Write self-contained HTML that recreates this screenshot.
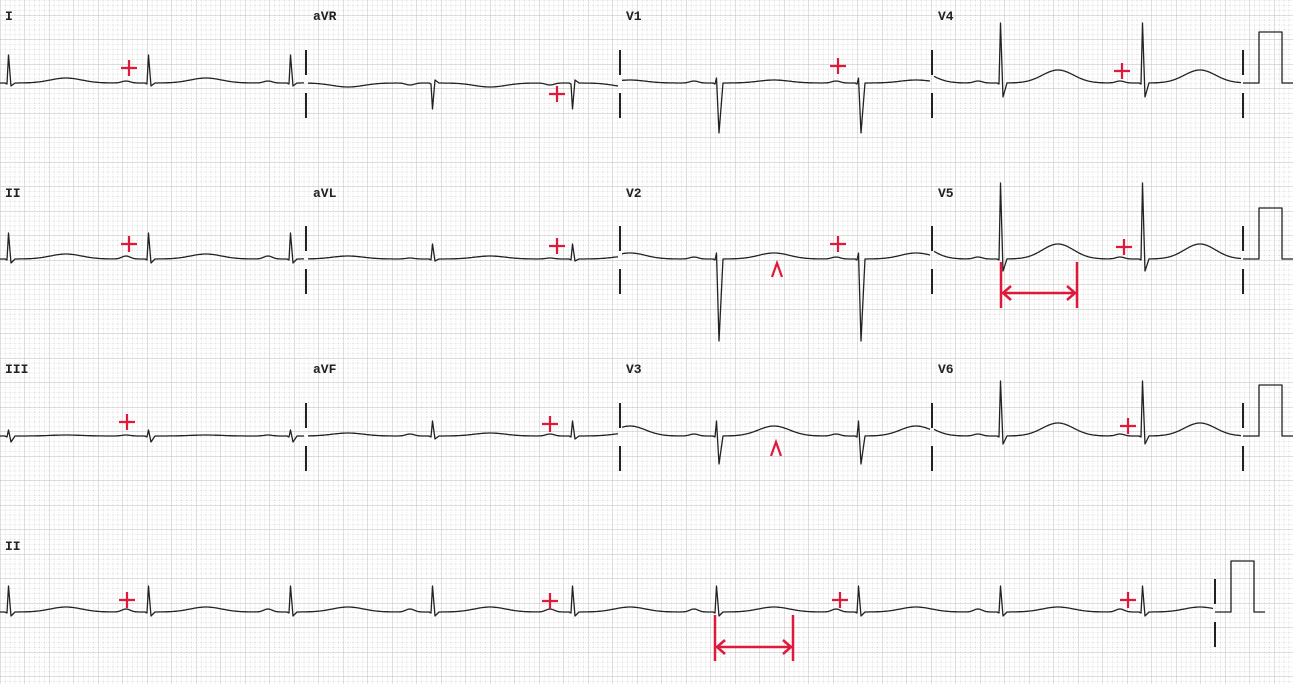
<!DOCTYPE html>
<html><head><meta charset="utf-8"><style>
html,body{margin:0;padding:0;background:#fff}
svg{display:block}
</style></head><body>
<svg id="s" width="1293" height="684" xmlns="http://www.w3.org/2000/svg">
<defs>
<pattern id="sm" width="4.9" height="4.9" patternUnits="userSpaceOnUse" x="0" y="15">
<path d="M0 0H4.9M0 0V4.9" stroke="#c8c8c8" stroke-width="0.8" stroke-dasharray="1 1" fill="none"/>
</pattern>
<pattern id="mj" width="24.5" height="24.5" patternUnits="userSpaceOnUse" x="0" y="15">
<path d="M0 0H24.5M0 0V24.5" stroke="#bdbdbd" stroke-width="0.9" fill="none"/>
</pattern>
</defs>
<rect width="1293" height="684" fill="#fff"/>
<rect width="1293" height="684" fill="url(#sm)"/>
<rect width="1293" height="684" fill="url(#mj)"/>
<g font-family="Liberation Mono, monospace" font-weight="bold" font-size="13" fill="#222">
<text x="5" y="20">I</text><text x="313" y="20">aVR</text><text x="626" y="20">V1</text><text x="938" y="20">V4</text>
<text x="5" y="197">II</text><text x="313" y="197">aVL</text><text x="626" y="197">V2</text><text x="938" y="197">V5</text>
<text x="5" y="373">III</text><text x="313" y="373">aVF</text><text x="626" y="373">V3</text><text x="938" y="373">V6</text>
<text x="5" y="550">II</text>
</g>
<g id="tr" fill="none" stroke="#222" stroke-width="1.3" stroke-linejoin="round"></g>
<g id="red" stroke="#e0193a" stroke-width="2.2" fill="none"></g>
</svg>
<script>
var tr=document.getElementById('tr'),red=document.getElementById('red');
var NS='http://www.w3.org/2000/svg';
function el(p,t,a){var e=document.createElementNS(NS,t);for(var k in a)e.setAttribute(k,a[k]);p.appendChild(e);return e;}
var beats=[8,148,290,432,572,716,858,1000,1142];
var L={
I:{r:28,s:-3,t:5,p:2},aVR:{r:-26,s:3,t:-4,p:-2},V1:{r:5,s:-50,t:3,p:2},V4:{r:60,s:-14,t:13,p:2},
II:{r:26,s:-4,t:5,p:3},aVL:{r:15,s:-2,t:3,p:1},V2:{r:6,s:-82,t:6,p:2},V5:{r:76,s:-12,t:15,p:2},
III:{r:6,s:-6,t:1,p:1},aVF:{r:15,s:-3,t:3,p:2},V3:{r:15,s:-28,t:10,p:2},V6:{r:55,s:-8,t:13,p:2}};
var rows=[83,259,436,612];
var cols=[[0,306],[306,620],[620,932],[932,1243]];
var names=[['I','aVR','V1','V4'],['II','aVL','V2','V5'],['III','aVF','V3','V6']];
function smooth(x,b,ld){var y=0;beats.forEach(function(q){var d=x-q;
 y+=ld.p*Math.exp(-Math.pow((d+22)/6,2));
 y+=ld.t*Math.exp(-Math.pow((d-58)/22,2));});return b-y;}
function trace(x0,x1,b,ld){var pts=[];
 for(var x=x0;x<=x1;x++){
  var near=null;beats.forEach(function(q){if(x>=q-3&&x<=q+7)near=q;});
  if(near!==null){ if(x==near-3){var q=near;
    pts.push([q-3,smooth(q-3,b,ld)]);pts.push([q-1,b+1]);pts.push([q+0.5,b-ld.r]);
    pts.push([q+3,b-ld.s]);pts.push([q+7,smooth(q+7,b,ld)]);} continue;}
  pts.push([x,smooth(x,b,ld)]);}
 el(tr,'polyline',{points:pts.map(function(p){return p[0].toFixed(1)+','+p[1].toFixed(1)}).join(' ')});}
function sep(x,b){el(tr,'line',{x1:x,y1:b-33,x2:x,y2:b-8,'stroke-width':2});el(tr,'line',{x1:x,y1:b+10,x2:x,y2:b+35,'stroke-width':2});}
function cal(x,b){el(tr,'polyline',{points:[x,b,x+16,b,x+16,b-51,x+39,b-51,x+39,b,x+50,b].join(' ')});}
for(var r=0;r<3;r++){for(var c=0;c<4;c++){trace(cols[c][0]+(c?2:0),cols[c][1]-2,rows[r],L[names[r][c]]);if(c)sep(cols[c][0],rows[r]);}
 sep(1243,rows[r]);cal(1243,rows[r]);}
trace(0,1213,rows[3],L.II);sep(1215,rows[3]);cal(1215,rows[3]);
function plus(x,y){el(red,'path',{d:'M'+(x-8)+' '+y+'H'+(x+8)+'M'+x+' '+(y-8)+'V'+(y+8)});}
[[129,68],[557,94],[838,66],[1122,71],[129,244],[557,246],[838,244],[1124,247],[127,422],[550,424],[1128,426],[127,600],[550,601],[840,600],[1128,600]].forEach(function(p){plus(p[0],p[1]);});
function caret(x,y){el(red,'path',{d:'M'+(x-5)+' '+(y+7)+'L'+x+' '+(y-7)+'L'+(x+5)+' '+(y+7)});}
caret(777,270);caret(776,449);
function arrow(x1,x2,yt,yb,ya){el(red,'path',{d:'M'+x1+' '+yt+'V'+yb+'M'+x2+' '+yt+'V'+yb+'M'+(x1+2)+' '+ya+'H'+(x2-2)+'M'+(x1+10)+' '+(ya-7)+'L'+(x1+2)+' '+ya+'L'+(x1+10)+' '+(ya+7)+'M'+(x2-10)+' '+(ya-7)+'L'+(x2-2)+' '+ya+'L'+(x2-10)+' '+(ya+7),'stroke-width':2.5});}
arrow(1001,1077,262,308,293);arrow(715,793,615,661,647);
</script>
</body></html>
